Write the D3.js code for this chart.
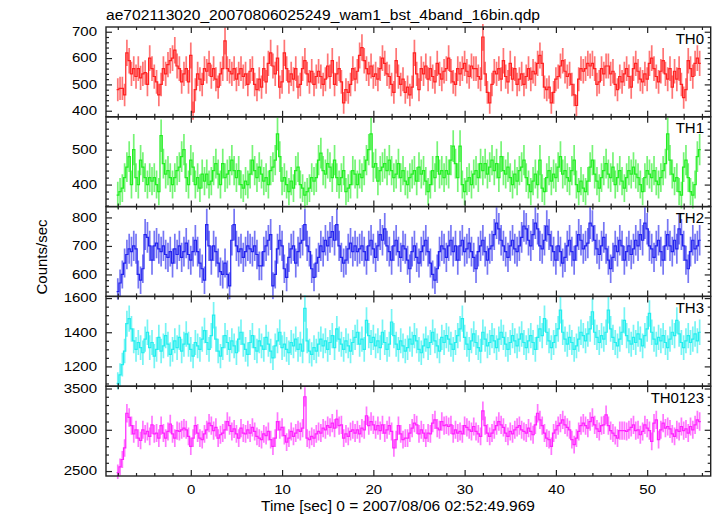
<!DOCTYPE html>
<html><head><meta charset="utf-8">
<script src="https://cdn.jsdelivr.net/npm/d3@7"></script>
<style>
body{margin:0;background:#fff}
svg{display:block}
text{font-family:"Liberation Sans",Arial,Helvetica,sans-serif;fill:#000}
</style>
</head><body>
<svg id="c" width="717" height="516"></svg>
<script>
// ---------------- data ----------------
const title = "ae702113020_20070806025249_wam1_bst_4band_16bin.qdp";
const xLabel = "Time [sec] 0 = 2007/08/06 02:52:49.969";
const yLabel = "Counts/sec";
const panelNames = ["TH0", "TH1", "TH2", "TH3", "TH0123"];
const binStart = -8;      // time of first bin (s)
const binWidth = 0.25;    // bin width (s)
const xMajorTicks = [0, 10, 20, 30, 40, 50];
const xMinorStep = 2;
const yMajorTicks = [[400, 500, 600, 700], [400, 500], [600, 700, 800], [1200, 1400, 1600], [2500, 3000, 3500]];
const yMinorSteps = [20, 20, 20, 50, 100];
const yDomains = [[377, 718], [337, 594], [523, 838], [1084, 1610], [2440, 3528]];

const th0 = [480,485,485,460,620,590,540,560,530,560,
525,540,545,500,600,560,530,510,460,500,
560,540,575,590,600,630,570,560,510,540,
560,510,610,395,480,540,520,500,560,550,
580,530,560,520,490,540,560,665,560,550,
540,560,520,540,560,530,540,500,550,560,
500,480,520,490,560,510,580,620,570,540,
600,490,510,620,560,510,540,520,560,490,
500,560,590,540,510,550,500,530,550,530,
500,520,570,530,590,500,540,560,510,430,
480,470,500,560,520,550,610,640,590,560,
540,570,530,540,520,560,600,580,540,530,
500,470,590,530,500,520,470,490,460,490,
620,540,480,560,540,570,520,560,530,510,
580,540,520,550,560,600,550,510,500,560,
540,560,580,550,530,570,560,560,530,520,
680,540,470,430,500,550,540,560,520,590,
530,510,580,520,560,500,520,540,500,530,
560,520,550,540,580,610,580,490,480,490,
430,470,520,530,570,590,550,530,540,500,
460,420,520,560,550,560,580,570,580,560,
500,510,560,540,570,570,540,550,500,480,
530,510,540,560,530,490,560,580,550,520,
510,540,520,580,600,560,530,510,550,590,
540,520,560,490,550,520,560,500,450,480,
590,560,530,580,600,580];

const th1 = [370,380,390,420,450,480,400,500,420,400,
470,450,420,400,420,410,420,400,380,540,
460,430,440,420,400,420,440,450,480,500,
420,400,470,450,400,420,390,430,410,430,
400,410,440,460,430,400,460,420,430,440,
470,440,420,440,400,390,410,400,430,470,
440,420,450,430,410,420,400,440,450,470,
545,480,410,420,400,380,410,390,440,450,
400,390,370,380,390,420,410,420,470,490,
440,430,460,450,420,470,420,400,420,440,
380,390,400,440,430,400,430,420,440,470,
500,545,450,460,410,440,450,460,440,470,
440,420,430,460,420,440,410,400,420,430,
440,410,450,430,440,410,380,400,440,420,
480,430,440,420,440,430,470,510,460,420,
510,400,380,410,420,400,430,440,420,460,
440,460,430,450,470,440,460,420,480,440,
430,450,420,400,430,410,440,450,470,420,
400,380,410,430,400,470,390,380,420,440,
410,430,420,450,480,430,440,420,410,440,
470,400,380,410,390,380,410,450,470,430,
410,390,420,440,460,430,420,450,400,420,
440,410,390,420,440,430,450,430,420,400,
380,420,440,430,420,440,410,400,420,440,
460,545,470,430,410,420,380,370,450,470,
420,380,370,400,480,500];

const th2 = [540,570,600,640,670,690,680,700,690,600,
580,620,740,730,700,650,700,710,690,680,
700,670,660,680,640,690,670,700,660,680,
710,670,650,680,720,680,640,620,580,775,
700,650,700,680,640,610,600,640,600,560,
720,775,700,680,690,660,680,700,690,680,
700,670,630,630,680,700,720,740,560,600,
690,720,700,620,590,660,690,700,640,680,
710,720,775,700,680,620,590,640,660,700,
680,720,700,730,750,720,775,700,660,640,
650,690,710,680,700,680,690,700,680,650,
700,720,690,660,700,740,720,760,700,680,
650,700,720,680,660,700,690,650,620,680,
700,660,640,680,700,720,680,640,600,580,
620,680,700,690,660,700,720,680,700,650,
700,720,680,690,710,680,660,620,680,700,
720,680,650,690,700,740,780,760,720,700,
680,660,700,720,690,680,700,730,770,760,
720,700,740,780,760,700,690,720,770,740,
700,680,650,700,680,640,660,700,720,680,
650,700,740,720,690,700,710,780,770,720,
690,670,700,730,690,650,620,660,700,680,
720,700,650,680,700,670,690,720,700,740,
720,780,760,700,690,660,700,720,680,650,
700,740,700,680,720,690,760,740,700,650,
620,680,720,690,700,720];

const th3 = [1100,1150,1210,1290,1450,1480,1420,1350,1300,1340,
1310,1280,1360,1400,1310,1340,1260,1300,1370,1290,
1320,1380,1330,1270,1300,1350,1310,1370,1290,1330,
1390,1330,1300,1260,1340,1320,1300,1360,1410,1340,
1300,1380,1500,1360,1290,1260,1310,1380,1340,1300,
1350,1320,1280,1360,1400,1330,1300,1270,1340,1380,
1310,1290,1350,1320,1300,1370,1330,1290,1250,1320,
1350,1400,1310,1330,1300,1280,1340,1320,1360,1300,
1330,1290,1540,1350,1290,1270,1310,1290,1330,1360,
1320,1350,1300,1340,1380,1310,1420,1360,1330,1300,
1350,1320,1290,1340,1370,1400,1330,1360,1300,1470,
1380,1340,1370,1320,1350,1310,1400,1340,1300,1330,
1460,1380,1330,1300,1350,1320,1290,1310,1360,1330,
1380,1350,1300,1280,1320,1360,1310,1340,1400,1350,
1320,1290,1370,1340,1380,1360,1330,1300,1340,1380,
1420,1480,1370,1330,1300,1350,1390,1340,1310,1290,
1400,1360,1320,1340,1380,1350,1310,1360,1400,1370,
1330,1300,1340,1380,1350,1320,1360,1390,1340,1310,
1350,1380,1340,1300,1370,1420,1380,1480,1400,1350,
1310,1340,1380,1420,1530,1400,1360,1330,1370,1340,
1300,1320,1360,1400,1380,1350,1390,1420,1520,1400,
1370,1340,1380,1360,1400,1530,1420,1370,1340,1320,
1360,1400,1470,1380,1350,1330,1370,1340,1390,1360,
1320,1380,1420,1510,1400,1360,1330,1370,1350,1380,
1340,1310,1360,1400,1380,1470,1390,1340,1310,1350,
1380,1340,1360,1390,1350,1400];

const th0123 = [2480,2550,2640,2780,3200,3150,3050,2950,3000,2900,
2870,3000,2950,2980,2920,3060,2950,2960,2900,3050,
2960,2900,2980,3070,2950,2900,2990,2980,3000,3020,
3000,2920,2800,2900,3050,2960,2900,2880,2950,3000,
3080,3050,2990,3030,2900,2940,2960,3000,3100,3050,
2980,3010,2950,2900,3020,2960,2950,3000,2960,3030,
2980,2920,2900,2880,2950,2930,2980,2880,2800,2900,
3100,3000,3030,2930,2850,2900,2980,2920,2960,3000,
2980,3020,3400,2900,2880,2920,2900,2950,2980,2960,
3020,3000,3050,3030,3080,3020,3130,3050,3060,2900,
2950,2920,2980,3000,2960,3000,2950,3020,3000,3170,
3050,3100,3060,3000,3050,2990,3060,2960,3000,3050,
2980,2780,2880,3050,2950,2880,2900,2900,2960,3020,
3080,3060,2950,3000,2960,2900,2960,2950,3080,3120,
3020,3000,3100,3050,3060,3040,3060,2950,3000,2960,
2980,2950,3050,3030,3000,2980,3040,2980,2950,2920,
3230,3050,2960,2920,2960,3000,3050,3100,3060,3030,
2960,2920,2980,2950,3000,3030,3050,3000,2980,2960,
3020,2980,2940,3060,3200,3120,3050,2960,2900,2880,
2800,2960,3000,3050,3080,3120,3060,3030,3000,2880,
2820,2900,2980,3050,3080,3050,3020,3100,3150,3060,
3010,2980,3050,3060,3180,3050,2990,2960,2930,2900,
2990,2990,2990,2980,3000,3030,3060,2990,3000,2940,
2980,3060,3020,2990,2860,3080,3120,2880,3000,3080,
3020,3040,3010,2950,2920,3000,2980,3040,2990,3010,
2960,3040,3000,3060,3120,3100];

const series = [th0, th1, th2, th3, th0123];
const colors = ["#ff2020", "#22ee22", "#2222ee", "#22eeee", "#ff22ff"];

// ---------------- layout ----------------
const L = 106, R = 710.7, T = 27, B = 476;
const ph = (B - T) / 5;
const TMAJ = 6, TMIN = 3;
const svg = d3.select("#c");
const defs = svg.append("defs");
const x = d3.scaleLinear().domain([-9.29, 56.96]).range([L, R]);
const xMinor = d3.range(-8, 57, xMinorStep).filter(v => !xMajorTicks.includes(v));

function stretch(sel, f) {
  sel.each(function () {
    const w = this.getComputedTextLength();
    d3.select(this).attr("textLength", w * f).attr("lengthAdjust", "spacingAndGlyphs");
  });
}

series.forEach((vals, p) => {
  const y0 = T + p * ph, y1 = y0 + ph;
  const y = d3.scaleLinear().domain(yDomains[p]).range([y1, y0]);
  const col = colors[p];
  const g = svg.append("g");
  const cid = "clip" + p;
  defs.append("clipPath").attr("id", cid).append("rect")
    .attr("x", L).attr("y", y0 - 3).attr("width", R - L).attr("height", ph + 6);
  const dg = g.append("g").attr("clip-path", `url(#${cid})`);
  const data = vals.map((v, i) => ({ t: binStart + i * binWidth, v: v, e: 2 * Math.sqrt(v) }));
  dg.selectAll("line").data(data).join("line")
    .attr("x1", d => x(d.t)).attr("x2", d => x(d.t))
    .attr("y1", d => y(d.v - d.e)).attr("y2", d => y(d.v + d.e))
    .attr("stroke", col).attr("stroke-opacity", 0.62).attr("stroke-width", 1.7);
  const hw = binWidth / 2;
  const pts = [];
  data.forEach(d => { pts.push([d.t - hw, d.v]); pts.push([d.t + hw, d.v]); });
  dg.append("path")
    .attr("d", d3.line().x(d => x(d[0])).y(d => y(d[1]))(pts))
    .attr("fill", "none").attr("stroke", col).attr("stroke-width", 1.2);

  // y axes
  const dom = yDomains[p];
  const mstep = yMinorSteps[p];
  const yMinor = d3.range(Math.ceil(dom[0] / mstep) * mstep, dom[1], mstep).filter(v => !yMajorTicks[p].includes(v));
  const ax = g.append("g").attr("class", "axes");
  const la = ax.append("g").attr("transform", `translate(${L},0)`)
    .call(d3.axisLeft(y).tickValues(yMajorTicks[p]).tickSize(-TMAJ).tickPadding(9).tickFormat(d3.format("d")));
  ax.append("g").attr("transform", `translate(${L},0)`)
    .call(d3.axisLeft(y).tickValues(yMinor).tickSize(-TMIN).tickFormat(""));
  ax.append("g").attr("transform", `translate(${R},0)`)
    .call(d3.axisRight(y).tickValues(yMajorTicks[p]).tickSize(-TMAJ).tickFormat(""));
  ax.append("g").attr("transform", `translate(${R},0)`)
    .call(d3.axisRight(y).tickValues(yMinor).tickSize(-TMIN).tickFormat(""));
  // x axes top / bottom
  ax.append("g").attr("transform", `translate(0,${y0})`)
    .call(d3.axisTop(x).tickValues(xMajorTicks).tickSize(-TMAJ).tickFormat(""));
  ax.append("g").attr("transform", `translate(0,${y0})`)
    .call(d3.axisTop(x).tickValues(xMinor).tickSize(-TMIN).tickFormat(""));
  const bx = ax.append("g").attr("transform", `translate(0,${y1})`)
    .call(d3.axisBottom(x).tickValues(xMajorTicks).tickSize(-TMAJ).tickPadding(9)
      .tickFormat(p === 4 ? d3.format("d") : ""));
  ax.append("g").attr("transform", `translate(0,${y1})`)
    .call(d3.axisBottom(x).tickValues(xMinor).tickSize(-TMIN).tickFormat(""));
  ax.selectAll(".domain").remove();
  ax.selectAll(".tick line").attr("stroke", "#222").attr("stroke-width", 1.2);
  ax.selectAll(".tick text").attr("font-size", 12).attr("font-family", null).attr("fill", "#000");
  stretch(la.selectAll(".tick text"), 1.25);
  stretch(bx.selectAll(".tick text"), 1.25);

  // frame
  g.append("rect").attr("x", L).attr("y", y0).attr("width", R - L).attr("height", ph)
    .attr("fill", "none").attr("stroke", "#222").attr("stroke-width", 1.4);

  // panel name
  g.append("text").attr("x", 704).attr("y", y0 + 16.5).attr("text-anchor", "end")
    .attr("font-size", 15).text(panelNames[p]);
});

// title
svg.append("text").attr("x", 106).attr("y", 19.5).attr("font-size", 14)
  .attr("textLength", 434).attr("lengthAdjust", "spacingAndGlyphs").text(title);
// x label
svg.append("text").attr("x", 261).attr("y", 510.5).attr("font-size", 15)
  .attr("textLength", 274).attr("lengthAdjust", "spacingAndGlyphs").text(xLabel);
// y label
svg.append("text").attr("transform", "translate(47,257) rotate(-90)")
  .attr("text-anchor", "middle").attr("font-size", 15).text(yLabel);
</script>
</body></html>
